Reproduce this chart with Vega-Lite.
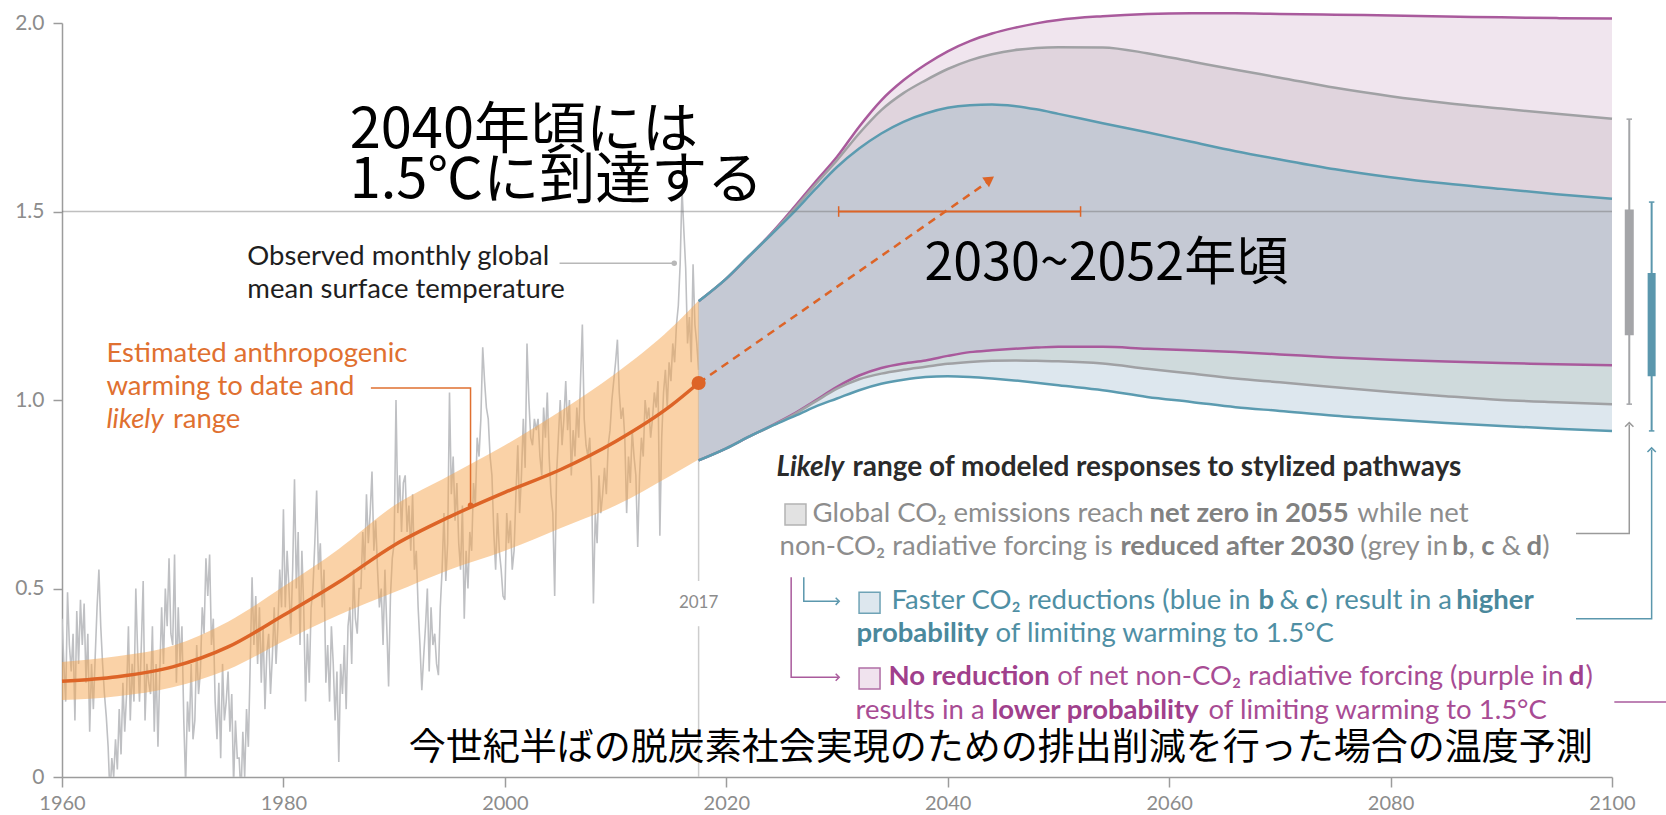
{
"$schema":"https://vega.github.io/schema/vega-lite/v6.json",
"width":1550,"height":754,
"autosize":{"type":"none"},
"padding":{"left":62,"top":23,"right":54,"bottom":38},
"background":"#ffffff",
"config":{"view":{"stroke":null},"font":"Lato"},
"datasets":{
"obs":[
{"t":1960,"v":0.42},{"t":1960.167,"v":0.3},{"t":1960.333,"v":0.2},{"t":1960.5,"v":0.49},{"t":1960.667,"v":0.35},{"t":1960.833,"v":0.28},
{"t":1961,"v":0.38},{"t":1961.167,"v":0.15},{"t":1961.333,"v":0.44},{"t":1961.5,"v":0.3},{"t":1961.667,"v":0.47},{"t":1961.833,"v":0.35},
{"t":1962,"v":0.46},{"t":1962.167,"v":0.25},{"t":1962.333,"v":0.38},{"t":1962.5,"v":0.12},{"t":1962.667,"v":0.3},{"t":1962.833,"v":0.18},
{"t":1963,"v":0.32},{"t":1963.167,"v":0.45},{"t":1963.333,"v":0.55},{"t":1963.5,"v":0.4},{"t":1963.667,"v":0.3},{"t":1963.833,"v":0.22},
{"t":1964,"v":0.16},{"t":1964.167,"v":0.08},{"t":1964.333,"v":-0.05},{"t":1964.5,"v":0.05},{"t":1964.667,"v":0.0},{"t":1964.833,"v":0.1},
{"t":1965,"v":0.02},{"t":1965.167,"v":0.18},{"t":1965.333,"v":0.06},{"t":1965.5,"v":0.25},{"t":1965.667,"v":0.12},{"t":1965.833,"v":0.22},
{"t":1966,"v":0.4},{"t":1966.167,"v":0.15},{"t":1966.333,"v":0.3},{"t":1966.5,"v":0.2},{"t":1966.667,"v":0.5},{"t":1966.833,"v":0.33},
{"t":1967,"v":0.2},{"t":1967.167,"v":0.35},{"t":1967.333,"v":0.52},{"t":1967.5,"v":0.15},{"t":1967.667,"v":0.3},{"t":1967.833,"v":0.25},
{"t":1968,"v":0.22},{"t":1968.167,"v":0.4},{"t":1968.333,"v":0.12},{"t":1968.5,"v":0.3},{"t":1968.667,"v":0.08},{"t":1968.833,"v":0.28},
{"t":1969,"v":0.45},{"t":1969.167,"v":0.3},{"t":1969.333,"v":0.5},{"t":1969.5,"v":0.4},{"t":1969.667,"v":0.58},{"t":1969.833,"v":0.38},
{"t":1970,"v":0.35},{"t":1970.167,"v":0.59},{"t":1970.333,"v":0.25},{"t":1970.5,"v":0.45},{"t":1970.667,"v":0.3},{"t":1970.833,"v":0.4},
{"t":1971,"v":0.15},{"t":1971.167,"v":-0.02},{"t":1971.333,"v":0.2},{"t":1971.5,"v":0.12},{"t":1971.667,"v":0.3},{"t":1971.833,"v":0.1},
{"t":1972,"v":0.15},{"t":1972.167,"v":0.35},{"t":1972.333,"v":0.22},{"t":1972.5,"v":0.28},{"t":1972.667,"v":0.45},{"t":1972.833,"v":0.38},
{"t":1973,"v":0.58},{"t":1973.167,"v":0.48},{"t":1973.333,"v":0.59},{"t":1973.5,"v":0.35},{"t":1973.667,"v":0.42},{"t":1973.833,"v":0.2},
{"t":1974,"v":0.1},{"t":1974.167,"v":0.25},{"t":1974.333,"v":0.05},{"t":1974.5,"v":0.3},{"t":1974.667,"v":0.15},{"t":1974.833,"v":0.2},
{"t":1975,"v":0.28},{"t":1975.167,"v":0.12},{"t":1975.333,"v":0.22},{"t":1975.5,"v":-0.02},{"t":1975.667,"v":0.15},{"t":1975.833,"v":0.05},
{"t":1976,"v":0.05},{"t":1976.167,"v":-0.05},{"t":1976.333,"v":0.12},{"t":1976.5,"v":0.0},{"t":1976.667,"v":0.18},{"t":1976.833,"v":0.08},
{"t":1977,"v":0.3},{"t":1977.167,"v":0.53},{"t":1977.333,"v":0.35},{"t":1977.5,"v":0.48},{"t":1977.667,"v":0.3},{"t":1977.833,"v":0.45},
{"t":1978,"v":0.25},{"t":1978.167,"v":0.4},{"t":1978.333,"v":0.18},{"t":1978.5,"v":0.33},{"t":1978.667,"v":0.38},{"t":1978.833,"v":0.22},
{"t":1979,"v":0.32},{"t":1979.167,"v":0.45},{"t":1979.333,"v":0.3},{"t":1979.5,"v":0.4},{"t":1979.667,"v":0.55},{"t":1979.833,"v":0.45},
{"t":1980,"v":0.71},{"t":1980.167,"v":0.45},{"t":1980.333,"v":0.6},{"t":1980.5,"v":0.5},{"t":1980.667,"v":0.38},{"t":1980.833,"v":0.55},
{"t":1981,"v":0.79},{"t":1981.167,"v":0.5},{"t":1981.333,"v":0.65},{"t":1981.5,"v":0.35},{"t":1981.667,"v":0.6},{"t":1981.833,"v":0.45},
{"t":1982,"v":0.2},{"t":1982.167,"v":0.38},{"t":1982.333,"v":0.25},{"t":1982.5,"v":0.45},{"t":1982.667,"v":0.5},{"t":1982.833,"v":0.62},
{"t":1983,"v":0.76},{"t":1983.167,"v":0.55},{"t":1983.333,"v":0.62},{"t":1983.5,"v":0.45},{"t":1983.667,"v":0.55},{"t":1983.833,"v":0.25},
{"t":1984,"v":0.35},{"t":1984.167,"v":0.2},{"t":1984.333,"v":0.4},{"t":1984.5,"v":0.3},{"t":1984.667,"v":0.15},{"t":1984.833,"v":0.28},
{"t":1985,"v":0.04},{"t":1985.167,"v":0.3},{"t":1985.333,"v":0.22},{"t":1985.5,"v":0.35},{"t":1985.667,"v":0.18},{"t":1985.833,"v":0.4},
{"t":1986,"v":0.45},{"t":1986.167,"v":0.3},{"t":1986.333,"v":0.55},{"t":1986.5,"v":0.42},{"t":1986.667,"v":0.38},{"t":1986.833,"v":0.5},
{"t":1987,"v":0.5},{"t":1987.167,"v":0.65},{"t":1987.333,"v":0.55},{"t":1987.5,"v":0.75},{"t":1987.667,"v":0.62},{"t":1987.833,"v":0.7},
{"t":1988,"v":0.81},{"t":1988.167,"v":0.6},{"t":1988.333,"v":0.68},{"t":1988.5,"v":0.55},{"t":1988.667,"v":0.45},{"t":1988.833,"v":0.5},
{"t":1989,"v":0.35},{"t":1989.167,"v":0.55},{"t":1989.333,"v":0.4},{"t":1989.5,"v":0.24},{"t":1989.667,"v":0.48},{"t":1989.833,"v":0.58},
{"t":1990,"v":0.62},{"t":1990.167,"v":1.0},{"t":1990.333,"v":0.7},{"t":1990.5,"v":0.8},{"t":1990.667,"v":0.65},{"t":1990.833,"v":0.78},
{"t":1991,"v":0.8},{"t":1991.167,"v":0.65},{"t":1991.333,"v":0.72},{"t":1991.5,"v":0.6},{"t":1991.667,"v":0.75},{"t":1991.833,"v":0.55},
{"t":1992,"v":0.6},{"t":1992.167,"v":0.45},{"t":1992.333,"v":0.35},{"t":1992.5,"v":0.23},{"t":1992.667,"v":0.32},{"t":1992.833,"v":0.4},
{"t":1993,"v":0.5},{"t":1993.167,"v":0.28},{"t":1993.333,"v":0.45},{"t":1993.5,"v":0.35},{"t":1993.667,"v":0.38},{"t":1993.833,"v":0.3},
{"t":1994,"v":0.27},{"t":1994.167,"v":0.45},{"t":1994.333,"v":0.55},{"t":1994.5,"v":0.7},{"t":1994.667,"v":0.52},{"t":1994.833,"v":0.62},
{"t":1995,"v":1.02},{"t":1995.167,"v":0.75},{"t":1995.333,"v":0.85},{"t":1995.5,"v":0.68},{"t":1995.667,"v":0.78},{"t":1995.833,"v":0.62},
{"t":1996,"v":0.55},{"t":1996.167,"v":0.72},{"t":1996.333,"v":0.42},{"t":1996.5,"v":0.6},{"t":1996.667,"v":0.5},{"t":1996.833,"v":0.65},
{"t":1997,"v":0.6},{"t":1997.167,"v":0.78},{"t":1997.333,"v":0.72},{"t":1997.5,"v":0.9},{"t":1997.667,"v":0.85},{"t":1997.833,"v":0.95},
{"t":1998,"v":1.14},{"t":1998.167,"v":1.05},{"t":1998.333,"v":0.98},{"t":1998.5,"v":0.95},{"t":1998.667,"v":0.85},{"t":1998.833,"v":0.8},
{"t":1999,"v":0.65},{"t":1999.167,"v":0.55},{"t":1999.333,"v":0.7},{"t":1999.5,"v":0.6},{"t":1999.667,"v":0.55},{"t":1999.833,"v":0.48},
{"t":2000,"v":0.47},{"t":2000.167,"v":0.7},{"t":2000.333,"v":0.62},{"t":2000.5,"v":0.68},{"t":2000.667,"v":0.55},{"t":2000.833,"v":0.6},
{"t":2001,"v":0.75},{"t":2001.167,"v":0.88},{"t":2001.333,"v":0.7},{"t":2001.5,"v":0.8},{"t":2001.667,"v":0.95},{"t":2001.833,"v":0.82},
{"t":2002,"v":1.15},{"t":2002.167,"v":1.0},{"t":2002.333,"v":0.9},{"t":2002.5,"v":0.88},{"t":2002.667,"v":0.95},{"t":2002.833,"v":0.92},
{"t":2003,"v":0.95},{"t":2003.167,"v":0.85},{"t":2003.333,"v":0.8},{"t":2003.5,"v":0.98},{"t":2003.667,"v":0.9},{"t":2003.833,"v":1.02},
{"t":2004,"v":0.85},{"t":2004.167,"v":0.75},{"t":2004.333,"v":0.7},{"t":2004.5,"v":0.48},{"t":2004.667,"v":0.8},{"t":2004.833,"v":0.9},
{"t":2005,"v":1.0},{"t":2005.167,"v":0.88},{"t":2005.333,"v":0.95},{"t":2005.5,"v":1.05},{"t":2005.667,"v":0.92},{"t":2005.833,"v":1.0},
{"t":2006,"v":0.8},{"t":2006.167,"v":0.92},{"t":2006.333,"v":0.85},{"t":2006.5,"v":0.98},{"t":2006.667,"v":0.9},{"t":2006.833,"v":1.05},
{"t":2007,"v":1.2},{"t":2007.167,"v":0.95},{"t":2007.333,"v":0.88},{"t":2007.5,"v":0.85},{"t":2007.667,"v":0.9},{"t":2007.833,"v":0.78},
{"t":2008,"v":0.46},{"t":2008.167,"v":0.7},{"t":2008.333,"v":0.62},{"t":2008.5,"v":0.8},{"t":2008.667,"v":0.7},{"t":2008.833,"v":0.75},
{"t":2009,"v":0.82},{"t":2009.167,"v":0.75},{"t":2009.333,"v":0.88},{"t":2009.5,"v":0.92},{"t":2009.667,"v":1.0},{"t":2009.833,"v":1.05},
{"t":2010,"v":1.1},{"t":2010.167,"v":1.16},{"t":2010.333,"v":1.02},{"t":2010.5,"v":0.95},{"t":2010.667,"v":0.98},{"t":2010.833,"v":0.9},
{"t":2011,"v":0.7},{"t":2011.167,"v":0.85},{"t":2011.333,"v":0.78},{"t":2011.5,"v":0.92},{"t":2011.667,"v":0.85},{"t":2011.833,"v":0.8},
{"t":2012,"v":0.61},{"t":2012.167,"v":0.8},{"t":2012.333,"v":0.9},{"t":2012.5,"v":0.85},{"t":2012.667,"v":1.0},{"t":2012.833,"v":0.95},
{"t":2013,"v":0.98},{"t":2013.167,"v":0.9},{"t":2013.333,"v":0.95},{"t":2013.5,"v":1.02},{"t":2013.667,"v":0.98},{"t":2013.833,"v":1.05},
{"t":2014,"v":0.64},{"t":2014.167,"v":0.9},{"t":2014.333,"v":1.02},{"t":2014.5,"v":1.08},{"t":2014.667,"v":0.98},{"t":2014.833,"v":1.1},
{"t":2015,"v":1.05},{"t":2015.167,"v":1.15},{"t":2015.333,"v":1.1},{"t":2015.5,"v":1.2},{"t":2015.667,"v":1.25},{"t":2015.833,"v":1.36},
{"t":2016,"v":1.56},{"t":2016.167,"v":1.45},{"t":2016.333,"v":1.35},{"t":2016.5,"v":1.15},{"t":2016.667,"v":1.22},{"t":2016.833,"v":1.1},
{"t":2017,"v":1.36},{"t":2017.167,"v":1.2},{"t":2017.333,"v":1.15},{"t":2017.5,"v":1.08}
],
"est":[
{"t":1960,"v":0.254,"lo":0.204,"hi":0.305},
{"t":1965,"v":0.266,"lo":0.214,"hi":0.32},
{"t":1970,"v":0.292,"lo":0.238,"hi":0.348},
{"t":1975,"v":0.345,"lo":0.285,"hi":0.412},
{"t":1980,"v":0.429,"lo":0.36,"hi":0.505},
{"t":1985,"v":0.517,"lo":0.43,"hi":0.605},
{"t":1990,"v":0.615,"lo":0.49,"hi":0.72},
{"t":1995,"v":0.69,"lo":0.55,"hi":0.8},
{"t":2000,"v":0.755,"lo":0.6,"hi":0.88},
{"t":2005,"v":0.815,"lo":0.66,"hi":0.97},
{"t":2010,"v":0.89,"lo":0.72,"hi":1.07},
{"t":2015,"v":0.985,"lo":0.8,"hi":1.19},
{"t":2017.5,"v":1.045,"lo":0.842,"hi":1.264}
],
"proj":[
{"t":2017.5,"bt":1.262,"gt":1.262,"pt":1.262,"bb":0.84,"gb":0.84,"pb":0.84},
{"t":2020,"bt":1.322,"gt":1.322,"pt":1.322,"bb":0.872,"gb":0.872,"pb":0.872},
{"t":2022,"bt":1.38,"gt":1.38,"pt":1.38,"bb":0.902,"gb":0.902,"pb":0.902},
{"t":2024,"bt":1.437,"gt":1.438,"pt":1.44,"bb":0.93,"gb":0.93,"pb":0.931},
{"t":2026,"bt":1.495,"gt":1.502,"pt":1.507,"bb":0.955,"gb":0.96,"pb":0.962},
{"t":2028,"bt":1.558,"gt":1.57,"pt":1.577,"bb":0.982,"gb":0.995,"pb":0.998},
{"t":2030,"bt":1.618,"gt":1.636,"pt":1.645,"bb":1.004,"gb":1.03,"pb":1.035},
{"t":2032,"bt":1.667,"gt":1.707,"pt":1.725,"bb":1.026,"gb":1.055,"pb":1.065},
{"t":2034,"bt":1.707,"gt":1.769,"pt":1.795,"bb":1.043,"gb":1.07,"pb":1.085},
{"t":2036,"bt":1.738,"gt":1.814,"pt":1.848,"bb":1.054,"gb":1.08,"pb":1.097},
{"t":2038,"bt":1.76,"gt":1.848,"pt":1.89,"bb":1.061,"gb":1.088,"pb":1.105},
{"t":2040,"bt":1.775,"gt":1.878,"pt":1.925,"bb":1.063,"gb":1.096,"pb":1.117},
{"t":2042,"bt":1.782,"gt":1.901,"pt":1.952,"bb":1.061,"gb":1.101,"pb":1.127},
{"t":2044,"bt":1.784,"gt":1.917,"pt":1.972,"bb":1.057,"gb":1.104,"pb":1.132},
{"t":2046,"bt":1.78,"gt":1.928,"pt":1.987,"bb":1.052,"gb":1.105,"pb":1.136},
{"t":2048,"bt":1.771,"gt":1.934,"pt":1.999,"bb":1.046,"gb":1.104,"pb":1.139},
{"t":2050,"bt":1.759,"gt":1.936,"pt":2.008,"bb":1.039,"gb":1.103,"pb":1.141},
{"t":2054,"bt":1.734,"gt":1.935,"pt":2.018,"bb":1.026,"gb":1.097,"pb":1.141},
{"t":2058,"bt":1.71,"gt":1.92,"pt":2.024,"bb":1.008,"gb":1.083,"pb":1.136},
{"t":2062,"bt":1.685,"gt":1.898,"pt":2.026,"bb":0.995,"gb":1.07,"pb":1.132},
{"t":2066,"bt":1.66,"gt":1.876,"pt":2.026,"bb":0.981,"gb":1.057,"pb":1.127},
{"t":2070,"bt":1.638,"gt":1.855,"pt":2.024,"bb":0.971,"gb":1.047,"pb":1.121},
{"t":2075,"bt":1.612,"gt":1.828,"pt":2.022,"bb":0.958,"gb":1.034,"pb":1.113},
{"t":2080,"bt":1.591,"gt":1.806,"pt":2.02,"bb":0.948,"gb":1.021,"pb":1.107},
{"t":2085,"bt":1.574,"gt":1.788,"pt":2.017,"bb":0.939,"gb":1.01,"pb":1.102},
{"t":2090,"bt":1.56,"gt":1.773,"pt":2.015,"bb":0.931,"gb":1.0,"pb":1.098},
{"t":2095,"bt":1.546,"gt":1.759,"pt":2.013,"bb":0.924,"gb":0.994,"pb":1.095},
{"t":2100,"bt":1.534,"gt":1.746,"pt":2.012,"bb":0.918,"gb":0.989,"pb":1.092}
]
},
"layer":[
{"data":{"name":"proj"},"mark":{"type":"area","color":"#f0e5ee","interpolate":"monotone"},
 "encoding":{
  "x":{"field":"t","type":"quantitative","title":null,"scale":{"domain":[1960,2100],"nice":false,"zero":false},
   "axis":{"title":null,"values":[1960,1980,2000,2020,2040,2060,2080,2100],"format":"d","grid":false,"tickSize":10,"tickWidth":1.5,"tickColor":"#9c9c9c","domainColor":"#9c9c9c","domainWidth":1.5,"labelColor":"#8c8c8c","labelFontSize":20,"labelFont":"Lato","labelPadding":6,"labelFlush":false}},
  "y":{"field":"pt","type":"quantitative","title":null,"scale":{"domain":[0,2],"nice":false,"zero":false},
   "axis":{"title":null,"values":[0,0.5,1,1.5,2],"labelExpr":"datum.value == 0 ? '0' : format(datum.value, '.1f')","grid":false,"tickSize":9,"tickWidth":1.5,"tickColor":"#9c9c9c","domainColor":"#9c9c9c","domainWidth":1.5,"labelColor":"#8c8c8c","labelFontSize":21,"labelFont":"Lato","labelPadding":9}},
  "y2":{"field":"gt"}}},
{"data":{"name":"proj"},"mark":{"type":"area","color":"#e0d4dd","interpolate":"monotone"},
 "encoding":{"x":{"field":"t","type":"quantitative","title":null},"y":{"field":"gt","type":"quantitative","title":null},"y2":{"field":"bt"}}},
{"data":{"name":"proj"},"mark":{"type":"area","color":"#c5c9d4","interpolate":"monotone"},
 "encoding":{"x":{"field":"t","type":"quantitative","title":null},"y":{"field":"bt","type":"quantitative","title":null},"y2":{"field":"pb"}}},
{"data":{"name":"proj"},"mark":{"type":"area","color":"#cfdadc","interpolate":"monotone"},
 "encoding":{"x":{"field":"t","type":"quantitative","title":null},"y":{"field":"pb","type":"quantitative","title":null},"y2":{"field":"gb"}}},
{"data":{"name":"proj"},"mark":{"type":"area","color":"#dde7ee","interpolate":"monotone"},
 "encoding":{"x":{"field":"t","type":"quantitative","title":null},"y":{"field":"gb","type":"quantitative","title":null},"y2":{"field":"bb"}}},
{"data":{"values":[{"t":2017.5,"v":0,"v2":0.4},{"t":2017.5,"v":0.52,"v2":1.26}]},"mark":{"type":"rule","color":"#cdcdcd","strokeWidth":1.5},
 "encoding":{"x":{"field":"t","type":"quantitative","title":null},"y":{"field":"v","type":"quantitative","title":null},"y2":{"field":"v2"}}},
{"data":{"name":"obs"},"mark":{"type":"line","color":"#bfc0c3","strokeWidth":1.6,"clip":true},
 "encoding":{"x":{"field":"t","type":"quantitative","title":null},"y":{"field":"v","type":"quantitative","title":null}}},
{"data":{"name":"est"},"mark":{"type":"area","color":"#f5a650","opacity":0.5,"interpolate":"monotone"},
 "encoding":{"x":{"field":"t","type":"quantitative","title":null},"y":{"field":"lo","type":"quantitative","title":null},"y2":{"field":"hi"}}},
{"data":{"name":"proj"},"mark":{"type":"line","color":"#a95a9c","strokeWidth":2.5,"interpolate":"monotone"},
 "encoding":{"x":{"field":"t","type":"quantitative","title":null},"y":{"field":"pt","type":"quantitative","title":null}}},
{"data":{"name":"proj"},"mark":{"type":"line","color":"#a95a9c","strokeWidth":2.5,"interpolate":"monotone"},
 "encoding":{"x":{"field":"t","type":"quantitative","title":null},"y":{"field":"pb","type":"quantitative","title":null}}},
{"data":{"name":"proj"},"mark":{"type":"line","color":"#a0a1a4","strokeWidth":2.5,"interpolate":"monotone"},
 "encoding":{"x":{"field":"t","type":"quantitative","title":null},"y":{"field":"gt","type":"quantitative","title":null}}},
{"data":{"name":"proj"},"mark":{"type":"line","color":"#a0a1a4","strokeWidth":2.5,"interpolate":"monotone"},
 "encoding":{"x":{"field":"t","type":"quantitative","title":null},"y":{"field":"gb","type":"quantitative","title":null}}},
{"data":{"name":"proj"},"mark":{"type":"line","color":"#5b9bb0","strokeWidth":2.5,"interpolate":"monotone"},
 "encoding":{"x":{"field":"t","type":"quantitative","title":null},"y":{"field":"bt","type":"quantitative","title":null}}},
{"data":{"name":"proj"},"mark":{"type":"line","color":"#5b9bb0","strokeWidth":2.5,"interpolate":"monotone"},
 "encoding":{"x":{"field":"t","type":"quantitative","title":null},"y":{"field":"bb","type":"quantitative","title":null}}},
{"data":{"values":[{"t":1960,"t2":2100,"v":1.5}]},"mark":{"type":"rule","color":"#707070","opacity":0.45,"strokeWidth":1.5},
 "encoding":{"x":{"field":"t","type":"quantitative","title":null},"x2":{"field":"t2"},"y":{"field":"v","type":"quantitative","title":null}}},
{"data":{"name":"est"},"mark":{"type":"line","color":"#dd6427","strokeWidth":3.5,"interpolate":"monotone"},
 "encoding":{"x":{"field":"t","type":"quantitative","title":null},"y":{"field":"v","type":"quantitative","title":null}}},
{"data":{"values":[{"t":2017.5,"v":1.045},{"t":2043.6,"v":1.578}]},"mark":{"type":"line","color":"#dd6427","strokeWidth":2.5,"strokeDash":[8,6]},
 "encoding":{"x":{"field":"t","type":"quantitative","title":null},"y":{"field":"v","type":"quantitative","title":null}}},
{"data":{"values":[{"t":2043.8,"v":1.585}]},"mark":{"type":"point","shape":"triangle-up","filled":true,"color":"#dd6427","size":140,"angle":55,"opacity":1},
 "encoding":{"x":{"field":"t","type":"quantitative","title":null},"y":{"field":"v","type":"quantitative","title":null}}},
{"data":{"values":[{"t":2017.5,"v":1.045}]},"mark":{"type":"point","filled":true,"color":"#dd6427","size":200,"opacity":1},
 "encoding":{"x":{"field":"t","type":"quantitative","title":null},"y":{"field":"v","type":"quantitative","title":null}}},
{"data":{"values":[{"t":2030.15,"t2":2052.0,"v":1.5}]},"mark":{"type":"rule","color":"#dd6427","strokeWidth":2},
 "encoding":{"x":{"field":"t","type":"quantitative","title":null},"x2":{"field":"t2"},"y":{"field":"v","type":"quantitative","title":null}}},
{"data":{"values":[{"t":2030.15,"v":1.486,"v2":1.514},{"t":2052.0,"v":1.486,"v2":1.514}]},"mark":{"type":"rule","color":"#dd6427","strokeWidth":1.5},
 "encoding":{"x":{"field":"t","type":"quantitative","title":null},"y":{"field":"v","type":"quantitative","title":null},"y2":{"field":"v2"}}},
{"data":{"values":[{"t":2004.94,"v":1.363},{"t":2015.3,"v":1.363}]},"mark":{"type":"line","color":"#b8b8b8","strokeWidth":1.5},
 "encoding":{"x":{"field":"t","type":"quantitative","title":null},"y":{"field":"v","type":"quantitative","title":null}}},
{"data":{"values":[{"t":2015.3,"v":1.363}]},"mark":{"type":"point","filled":true,"color":"#b8b8b8","size":30,"opacity":1},
 "encoding":{"x":{"field":"t","type":"quantitative","title":null},"y":{"field":"v","type":"quantitative","title":null}}},
{"data":{"values":[{"t":1987.9,"v":1.032,"o":1},{"t":1996.9,"v":1.032,"o":2},{"t":1996.9,"v":0.721,"o":3}]},"mark":{"type":"line","color":"#e07030","strokeWidth":1.5},
 "encoding":{"x":{"field":"t","type":"quantitative","title":null},"y":{"field":"v","type":"quantitative","title":null},"order":{"field":"o"}}},
{"data":{"values":[{"t":1996.9,"v":0.721}]},"mark":{"type":"point","filled":true,"color":"#dd6427","size":30,"opacity":1},
 "encoding":{"x":{"field":"t","type":"quantitative","title":null},"y":{"field":"v","type":"quantitative","title":null}}},
{"data":{"values":[{"t":2101.56,"v":0.989,"v2":1.745}]},"mark":{"type":"rule","color":"#a4a5a8","strokeWidth":2},
 "encoding":{"x":{"field":"t","type":"quantitative","title":null},"y":{"field":"v","type":"quantitative","title":null},"y2":{"field":"v2"}}},
{"data":{"values":[{"t":2101.56,"v":1.172,"v2":1.505}]},"mark":{"type":"rule","color":"#a4a5a8","strokeWidth":9,"strokeCap":"butt"},
 "encoding":{"x":{"field":"t","type":"quantitative","title":null},"y":{"field":"v","type":"quantitative","title":null},"y2":{"field":"v2"}}},
{"data":{"values":[{"t":2101.56,"v":0.989},{"t":2101.56,"v":1.745}]},"mark":{"type":"point","shape":"M-1,0L1,0","filled":false,"color":"#a4a5a8","strokeWidth":1.5,"size":30,"opacity":1},
 "encoding":{"x":{"field":"t","type":"quantitative","title":null},"y":{"field":"v","type":"quantitative","title":null}}},
{"data":{"values":[{"t":2103.58,"v":0.918,"v2":1.525}]},"mark":{"type":"rule","color":"#5b97ad","strokeWidth":2},
 "encoding":{"x":{"field":"t","type":"quantitative","title":null},"y":{"field":"v","type":"quantitative","title":null},"y2":{"field":"v2"}}},
{"data":{"values":[{"t":2103.58,"v":1.063,"v2":1.337}]},"mark":{"type":"rule","color":"#5b97ad","strokeWidth":8,"strokeCap":"butt"},
 "encoding":{"x":{"field":"t","type":"quantitative","title":null},"y":{"field":"v","type":"quantitative","title":null},"y2":{"field":"v2"}}},
{"data":{"values":[{"t":2103.58,"v":0.918},{"t":2103.58,"v":1.525}]},"mark":{"type":"point","shape":"M-1,0L1,0","filled":false,"color":"#5b97ad","strokeWidth":1.5,"size":30,"opacity":1},
 "encoding":{"x":{"field":"t","type":"quantitative","title":null},"y":{"field":"v","type":"quantitative","title":null}}},
{"data":{"values":[{"t":2096.75,"v":0.646,"o":1},{"t":2101.56,"v":0.646,"o":2},{"t":2101.56,"v":0.935,"o":3}]},"mark":{"type":"line","color":"#9a9a9a","strokeWidth":1.5},
 "encoding":{"x":{"field":"t","type":"quantitative","title":null},"y":{"field":"v","type":"quantitative","title":null},"order":{"field":"o"}}},
{"data":{"values":[{"t":2101.56,"v":0.94}]},"mark":{"type":"point","shape":"M-1,1L0,0L1,1","filled":false,"color":"#9a9a9a","strokeWidth":1.5,"size":70,"opacity":1},
 "encoding":{"x":{"field":"t","type":"quantitative","title":null},"y":{"field":"v","type":"quantitative","title":null}}},
{"data":{"values":[{"t":2096.75,"v":0.42,"o":1},{"t":2103.58,"v":0.42,"o":2},{"t":2103.58,"v":0.868,"o":3}]},"mark":{"type":"line","color":"#5b97ad","strokeWidth":1.5},
 "encoding":{"x":{"field":"t","type":"quantitative","title":null},"y":{"field":"v","type":"quantitative","title":null},"order":{"field":"o"}}},
{"data":{"values":[{"t":2103.58,"v":0.873}]},"mark":{"type":"point","shape":"M-1,1L0,0L1,1","filled":false,"color":"#5b97ad","strokeWidth":1.5,"size":70,"opacity":1},
 "encoding":{"x":{"field":"t","type":"quantitative","title":null},"y":{"field":"v","type":"quantitative","title":null}}},
{"data":{"values":[{"t":2100.21,"v":0.199},{"t":2104.9,"v":0.199}]},"mark":{"type":"line","color":"#a95a9c","strokeWidth":1.5},
 "encoding":{"x":{"field":"t","type":"quantitative","title":null},"y":{"field":"v","type":"quantitative","title":null}}},
{"data":{"values":[{"t":2027.0,"v":0.53,"o":1},{"t":2027.0,"v":0.466,"o":2},{"t":2030.1,"v":0.466,"o":3}]},"mark":{"type":"line","color":"#5b97ad","strokeWidth":1.5},
 "encoding":{"x":{"field":"t","type":"quantitative","title":null},"y":{"field":"v","type":"quantitative","title":null},"order":{"field":"o"}}},
{"data":{"values":[{"t":2025.86,"v":0.53,"o":1},{"t":2025.86,"v":0.2645,"o":2},{"t":2030.1,"v":0.2645,"o":3}]},"mark":{"type":"line","color":"#a95a9c","strokeWidth":1.5},
 "encoding":{"x":{"field":"t","type":"quantitative","title":null},"y":{"field":"v","type":"quantitative","title":null},"order":{"field":"o"}}},
{"data":{"values":[{"t":2030.2,"v":0.466}]},"mark":{"type":"point","shape":"M-1,-1L0,0L-1,1","filled":false,"color":"#5b97ad","strokeWidth":1.5,"size":50,"opacity":1},
 "encoding":{"x":{"field":"t","type":"quantitative","title":null},"y":{"field":"v","type":"quantitative","title":null}}},
{"data":{"values":[{"t":2030.2,"v":0.2645}]},"mark":{"type":"point","shape":"M-1,-1L0,0L-1,1","filled":false,"color":"#a95a9c","strokeWidth":1.5,"size":50,"opacity":1},
 "encoding":{"x":{"field":"t","type":"quantitative","title":null},"y":{"field":"v","type":"quantitative","title":null}}},
{"data":{"values":[{"t":2026.25,"v":0.696}]},"mark":{"type":"point","shape":"square","filled":true,"fill":"#e2e2e2","stroke":"#b3b3b3","strokeWidth":1.5,"size":440,"opacity":1},
 "encoding":{"x":{"field":"t","type":"quantitative","title":null},"y":{"field":"v","type":"quantitative","title":null}}},
{"data":{"values":[{"t":2032.94,"v":0.462}]},"mark":{"type":"point","shape":"square","filled":true,"fill":"#dde7ee","stroke":"#6fa3b6","strokeWidth":1.5,"size":440,"opacity":1},
 "encoding":{"x":{"field":"t","type":"quantitative","title":null},"y":{"field":"v","type":"quantitative","title":null}}},
{"data":{"values":[{"t":2032.94,"v":0.261}]},"mark":{"type":"point","shape":"square","filled":true,"fill":"#f0e3ee","stroke":"#b06ea5","strokeWidth":1.5,"size":440,"opacity":1},
 "encoding":{"x":{"field":"t","type":"quantitative","title":null},"y":{"field":"v","type":"quantitative","title":null}}},
{"data":{"values":[{"t":2017.5,"v":0.4475,"s":"2017"}]},"mark":{"type":"text","align":"center","baseline":"alphabetic","fontSize":17,"color":"#8c8c8c","font":"Lato"},
 "encoding":{"x":{"field":"t","type":"quantitative","title":null},"y":{"field":"v","type":"quantitative","title":null},"text":{"field":"s"}}},
{"data":{"values":[{"t":1976.74,"v":1.3573,"s":"Observed monthly global"},{"t":1976.74,"v":1.2698,"s":"mean surface temperature"}]},"mark":{"type":"text","align":"left","baseline":"alphabetic","fontSize":27.5,"color":"#1e1e1e","font":"Lato"},
 "encoding":{"x":{"field":"t","type":"quantitative","title":null},"y":{"field":"v","type":"quantitative","title":null},"text":{"field":"s"}}},
{"data":{"values":[{"t":1964.01,"v":1.1,"s":"Estimated anthropogenic"},{"t":1964.01,"v":1.0125,"s":"warming to date and"},{"t":1970.02,"v":0.9249,"s":"range"}]},"mark":{"type":"text","align":"left","baseline":"alphabetic","fontSize":27.5,"color":"#e07030","font":"Lato"},
 "encoding":{"x":{"field":"t","type":"quantitative","title":null},"y":{"field":"v","type":"quantitative","title":null},"text":{"field":"s"}}},
{"data":{"values":[{"t":1964.01,"v":0.9249,"s":"likely"}]},"mark":{"type":"text","align":"left","baseline":"alphabetic","fontSize":27.5,"fontStyle":"italic","color":"#e07030","font":"Lato"},
 "encoding":{"x":{"field":"t","type":"quantitative","title":null},"y":{"field":"v","type":"quantitative","title":null},"text":{"field":"s"}}},
{"data":{"values":[{"t":2024.54,"v":0.7976,"s":"Likely"}]},"mark":{"type":"text","align":"left","baseline":"alphabetic","fontSize":28,"fontStyle":"italic","fontWeight":"bold","color":"#2b2b2b","font":"Lato"},
 "encoding":{"x":{"field":"t","type":"quantitative","title":null},"y":{"field":"v","type":"quantitative","title":null},"text":{"field":"s"}}},
{"data":{"values":[{"t":2031.4,"v":0.7976,"s":"range of modeled responses to stylized pathways"}]},"mark":{"type":"text","align":"left","baseline":"alphabetic","fontSize":28,"fontWeight":"bold","color":"#2b2b2b","font":"Lato"},
 "encoding":{"x":{"field":"t","type":"quantitative","title":null},"y":{"field":"v","type":"quantitative","title":null},"text":{"field":"s"}}},
{"data":{"values":[{"t":2027.79,"v":0.6756,"s":"Global CO₂ emissions reach"},{"t":2077.0,"v":0.6756,"s":"while net"},{"t":2024.81,"v":0.5881,"s":"non-CO₂ radiative forcing is"},{"t":2077.27,"v":0.5881,"s":"(grey in"},{"t":2087.03,"v":0.5881,"s":","},{"t":2090.01,"v":0.5881,"s":"&"},{"t":2093.71,"v":0.5881,"s":")"}]},"mark":{"type":"text","align":"left","baseline":"alphabetic","fontSize":27.5,"color":"#8d8d8d","font":"Lato"},
 "encoding":{"x":{"field":"t","type":"quantitative","title":null},"y":{"field":"v","type":"quantitative","title":null},"text":{"field":"s"}}},
{"data":{"values":[{"t":2058.22,"v":0.6756,"s":"net zero in 2055"},{"t":2055.6,"v":0.5881,"s":"reduced after 2030"},{"t":2085.58,"v":0.5881,"s":"b"},{"t":2088.2,"v":0.5881,"s":"c"},{"t":2092.27,"v":0.5881,"s":"d"}]},"mark":{"type":"text","align":"left","baseline":"alphabetic","fontSize":27.5,"fontWeight":"bold","color":"#818181","font":"Lato"},
 "encoding":{"x":{"field":"t","type":"quantitative","title":null},"y":{"field":"v","type":"quantitative","title":null},"text":{"field":"s"}}},
{"data":{"values":[{"t":2034.92,"v":0.4448,"s":"Faster CO₂ reductions (blue in"},{"t":2069.96,"v":0.4448,"s":"&"},{"t":2073.66,"v":0.4448,"s":") result in a"},{"t":2044.31,"v":0.3573,"s":"of limiting warming to 1.5°C"}]},"mark":{"type":"text","align":"left","baseline":"alphabetic","fontSize":27.5,"color":"#4f8fa4","font":"Lato"},
 "encoding":{"x":{"field":"t","type":"quantitative","title":null},"y":{"field":"v","type":"quantitative","title":null},"text":{"field":"s"}}},
{"data":{"values":[{"t":2068.06,"v":0.4448,"s":"b"},{"t":2072.31,"v":0.4448,"s":"c"},{"t":2085.94,"v":0.4448,"s":"higher"},{"t":2031.76,"v":0.3573,"s":"probability"}]},"mark":{"type":"text","align":"left","baseline":"alphabetic","fontSize":27.5,"fontWeight":"bold","color":"#4a889c","font":"Lato"},
 "encoding":{"x":{"field":"t","type":"quantitative","title":null},"y":{"field":"v","type":"quantitative","title":null},"text":{"field":"s"}}},
{"data":{"values":[{"t":2049.9,"v":0.2432,"s":"of net non-CO₂ radiative forcing (purple in"},{"t":2097.6,"v":0.2432,"s":")"},{"t":2031.67,"v":0.1531,"s":"results in a"},{"t":2063.55,"v":0.1531,"s":"of limiting warming to 1.5°C"}]},"mark":{"type":"text","align":"left","baseline":"alphabetic","fontSize":27.5,"color":"#a84c94","font":"Lato"},
 "encoding":{"x":{"field":"t","type":"quantitative","title":null},"y":{"field":"v","type":"quantitative","title":null},"text":{"field":"s"}}},
{"data":{"values":[{"t":2034.65,"v":0.2432,"s":"No reduction"},{"t":2096.1,"v":0.2432,"s":"d"},{"t":2043.95,"v":0.1531,"s":"lower probability"}]},"mark":{"type":"text","align":"left","baseline":"alphabetic","fontSize":27.5,"fontWeight":"bold","color":"#a0408c","font":"Lato"},
 "encoding":{"x":{"field":"t","type":"quantitative","title":null},"y":{"field":"v","type":"quantitative","title":null},"text":{"field":"s"}}},
{"data":{"values":[{"t":1985.98,"v":1.6676,"s":"2040年頃には"},{"t":1985.98,"v":1.535,"s":"1.5℃に到達する"}]},"mark":{"type":"text","align":"left","baseline":"alphabetic","fontSize":56,"color":"#000000","font":"Noto Sans CJK JP"},
 "encoding":{"x":{"field":"t","type":"quantitative","title":null},"y":{"field":"v","type":"quantitative","title":null},"text":{"field":"s"}}},
{"data":{"values":[{"t":2037.9,"v":1.3175,"s":"2030~2052年頃"}]},"mark":{"type":"text","align":"left","baseline":"alphabetic","fontSize":52,"color":"#000000","font":"Noto Sans CJK JP"},
 "encoding":{"x":{"field":"t","type":"quantitative","title":null},"y":{"field":"v","type":"quantitative","title":null},"text":{"field":"s"}}},
{"data":{"values":[{"t":1991.31,"v":0.0443,"s":"今世紀半ばの脱炭素社会実現のための排出削減を行った場合の温度予測"}]},"mark":{"type":"text","align":"left","baseline":"alphabetic","fontSize":37,"color":"#000000","font":"Noto Sans CJK JP"},
 "encoding":{"x":{"field":"t","type":"quantitative","title":null},"y":{"field":"v","type":"quantitative","title":null},"text":{"field":"s"}}}
]
}
